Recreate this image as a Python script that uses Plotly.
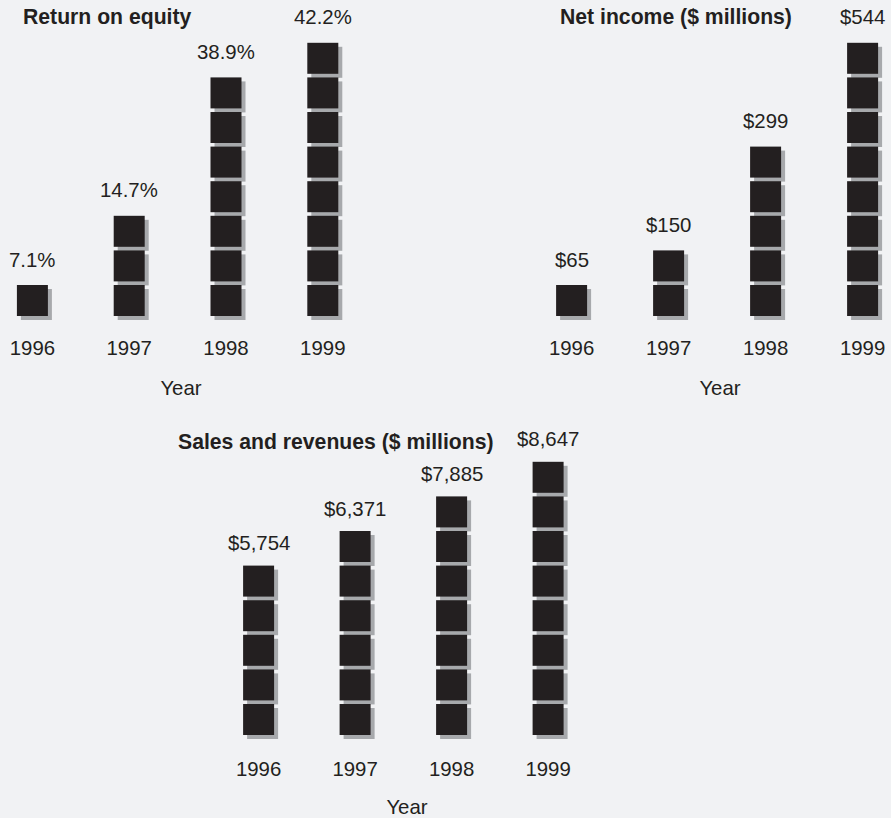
import plotly.graph_objects as go

# ---- data -------------------------------------------------------------
years = [1996, 1997, 1998, 1999]

roe_pct = [7.1, 14.7, 38.9, 42.2]
roe_icons = [1, 3, 7, 8]

net_income = [65, 150, 299, 544]
net_income_icons = [1, 2, 5, 8]

sales = [5754, 6371, 7885, 8647]
sales_icons = [5, 6, 7, 8]

panel_titles = ["Return on equity", "Net income ($ millions)",
                "Sales and revenues ($ millions)"]

# ---- style / page geometry (pixels) ------------------------------------
W, H = 891, 818
BG = "#f1f2f4"
INK = "#231f20"
SHADOW = "#a7a9ac"
FONT = "Liberation Sans, Arial, Helvetica, sans-serif"
TXT = 20.4         # regular text size
TTL = 21.2         # bold panel titles
ICON = 31          # square side
SHIFT = 4          # drop-shadow offset
ROW = 34.6         # vertical pitch of stacked icons

panels = [
    dict(values=[f"{v:.1f}%" for v in roe_pct], icons=roe_icons,
         dom_x=(0, 362), first_col=32.4, col_pitch=96.8,
         dom_y=(20, 334), base=300.5, lift=41,
         title=panel_titles[0], title_x=21, title_anchor="left", title_y=17),
    dict(values=[f"${v:,}" for v in net_income], icons=net_income_icons,
         dom_x=(549, 891), first_col=571.6, col_pitch=97.0,
         dom_y=(20, 334), base=300.5, lift=41,
         title=panel_titles[1], title_x=675.5, title_anchor="center", title_y=17),
    dict(values=[f"${v:,}" for v in sales], icons=sales_icons,
         dom_x=(200, 614), first_col=258.6, col_pitch=96.5,
         dom_y=(439, 755), base=719.5, lift=38,
         title=panel_titles[2], title_x=335.5, title_anchor="center", title_y=442),
]

fig = go.Figure()
layout = dict(
    width=W, height=H, margin=dict(l=0, r=0, t=0, b=0),
    paper_bgcolor=BG, plot_bgcolor=BG, showlegend=False,
    font=dict(family=FONT, color=INK, size=TXT),
)
annotations = []

for k, p in enumerate(panels, start=1):
    xa = "x" if k == 1 else f"x{k}"
    ya = "y" if k == 1 else f"y{k}"
    L, R = p["dom_x"]
    T, B = p["dom_y"]
    # x: one unit per year, placed so each column sits at its pixel centre
    x_range = [years[0] - (p["first_col"] - L) / p["col_pitch"],
               years[0] + (R - p["first_col"]) / p["col_pitch"]]
    # y: one unit per icon row, row 0 centred on the baseline row
    y_range = [-(B - p["base"]) / ROW, (p["base"] - T) / ROW]

    xs, ys = [], []
    for yr, n in zip(years, p["icons"]):
        xs += [yr] * n
        ys += list(range(n))

    dx = SHIFT / p["col_pitch"]
    dy = SHIFT / ROW
    fig.add_trace(go.Scatter(
        x=[v + dx for v in xs], y=[v - dy for v in ys], mode="markers",
        marker=dict(symbol="square", size=ICON, color=SHADOW, line=dict(width=0)),
        xaxis=xa, yaxis=ya, hoverinfo="skip", cliponaxis=False))
    fig.add_trace(go.Scatter(
        x=xs, y=ys, mode="markers",
        marker=dict(symbol="square", size=ICON, color=INK, line=dict(width=0)),
        xaxis=xa, yaxis=ya, hoverinfo="skip", cliponaxis=False))

    # value label above each stack
    for yr, n, txt in zip(years, p["icons"], p["values"]):
        annotations.append(dict(
            x=yr, y=n - 1, xref=xa, yref=ya, text=txt, showarrow=False,
            yshift=p["lift"], xanchor="center", yanchor="middle",
            font=dict(size=TXT, color=INK)))

    # panel title
    annotations.append(dict(
        x=p["title_x"] / W, y=1 - p["title_y"] / H, xref="paper", yref="paper",
        text=f"<b>{p['title']}</b>", showarrow=False,
        xanchor=p["title_anchor"], yanchor="middle",
        font=dict(size=TTL, color=INK)))

    layout[("xaxis" if k == 1 else f"xaxis{k}")] = dict(
        domain=[L / W, R / W], range=x_range, anchor=ya,
        tickvals=years, ticktext=[str(y) for y in years],
        tickfont=dict(size=TXT, color=INK), ticks="",
        showgrid=False, zeroline=False, showline=False, fixedrange=True,
        title=dict(text="Year", font=dict(size=TXT, color=INK), standoff=22),
    )
    layout[("yaxis" if k == 1 else f"yaxis{k}")] = dict(
        domain=[1 - B / H, 1 - T / H], range=y_range, anchor=xa,
        visible=False, fixedrange=True,
    )

layout["annotations"] = annotations
fig.update_layout(**layout)
fig.write_html("out.html")
